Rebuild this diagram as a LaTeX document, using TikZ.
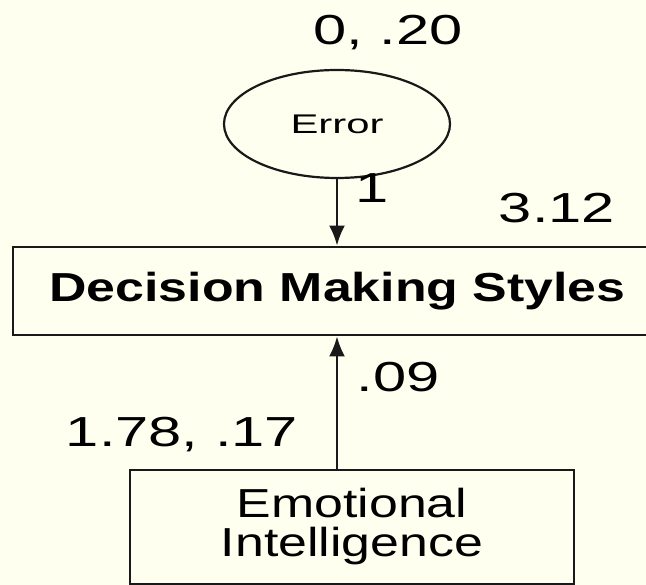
\documentclass[tikz,border=0pt]{standalone}
\usepackage{fontspec}
\setmainfont{Liberation Sans}
\newfontfamily\numfont[FakeStretch=1.42]{Liberation Sans}
\newfontfamily\txtfont[FakeStretch=1.28]{Liberation Sans}
\newfontfamily\errfont[FakeStretch=1.55]{Liberation Sans}
\usetikzlibrary{arrows.meta,shapes.geometric}
\definecolor{bg}{RGB}{255,255,240}
\definecolor{ln}{RGB}{25,25,25}
\begin{document}
\begin{tikzpicture}[x=1pt,y=-1pt,
  box/.style={draw=ln,line width=2.7pt,inner sep=0pt,align=center},
  num/.style={font=\numfont\fontsize{42}{42}\selectfont,inner sep=0pt,anchor=base},
  arr/.style={draw=ln,line width=2.6pt,-{Latex[length=20pt,width=16pt]}}]
\fill[bg] (0,0) rectangle (646,585);
\useasboundingbox (0,0) rectangle (646,585);
\clip (0,0) rectangle (646,585);
\node[box,ellipse,line width=2.2pt,minimum width=226pt,minimum height=108pt,
  font=\errfont\fontsize{27}{27}\selectfont] (err) at (337,124) {Error};
\node[box,minimum width=649pt,minimum height=88pt,
  font=\txtfont\bfseries\fontsize{40.5}{40.5}\selectfont] (dms) at (337.5,291) {Decision Making Styles};
\node[box,minimum width=444pt,minimum height=114pt,
  font=\txtfont\fontsize{40.5}{39}\selectfont] (ei) at (352,527) {Emotional\\Intelligence};
\draw[arr] (err.south) -- (err.south |- dms.north);
\draw[arr] (ei.north -| err.south) -- (err.south |- dms.south);
\node[num] (l020) at (388,45) {0, .20};
\node[num] (l1) at (372,203) {1};
\node[num] (l312) at (557,223) {3.12};
\node[num] (l09) at (398,392) {.09};
\node[num] (l178) at (182,447) {1.78, .17};
\end{tikzpicture}
\end{document}
